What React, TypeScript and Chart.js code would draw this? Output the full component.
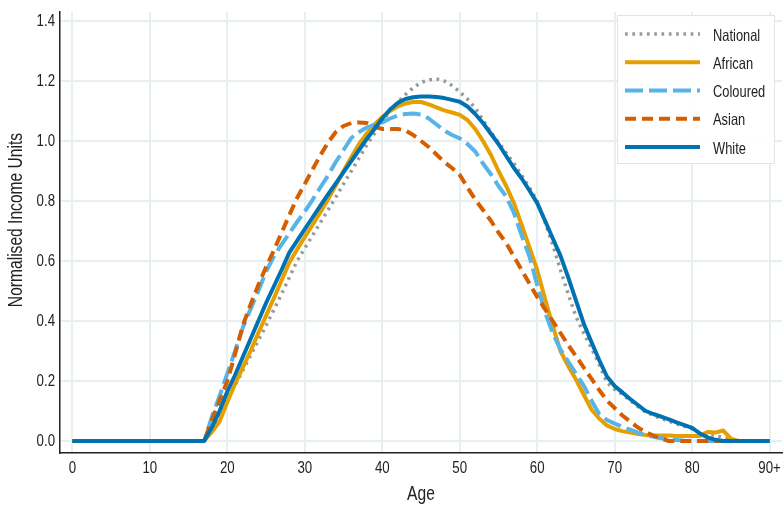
import React, { useEffect, useRef } from 'react';
import { Chart, registerables } from 'chart.js';

Chart.register(...registerables);

// ---- Data ----
const ages = [
  0, 1, 2, 3, 4, 5, 6, 7, 8, 9,
  10, 11, 12, 13, 14, 15, 16, 17, 18, 19,
  20, 21, 22, 23, 24, 25, 26, 27, 28, 29,
  30, 31, 32, 33, 34, 35, 36, 37, 38, 39,
  40, 41, 42, 43, 44, 45, 46, 47, 48, 49,
  50, 51, 52, 53, 54, 55, 56, 57, 58, 59,
  60, 61, 62, 63, 64, 65, 66, 67, 68, 69,
  70, 71, 72, 73, 74, 75, 76, 77, 78, 79,
  80, 81, 82, 83, 84, 85, 86, 87, 88, 89,
  90,
];

const nationalValues = [
  0, 0, 0, 0, 0, 0, 0, 0, 0, 0,
  0, 0, 0, 0, 0, 0, 0, 0, 0.035, 0.09,
  0.14, 0.186, 0.235, 0.285, 0.335, 0.385, 0.437, 0.49, 0.545, 0.6,
  0.643, 0.685, 0.728, 0.77, 0.813, 0.857, 0.9, 0.943, 0.987, 1.025,
  1.065, 1.1, 1.13, 1.155, 1.178, 1.195, 1.204, 1.207, 1.2, 1.185,
  1.164, 1.14, 1.11, 1.07, 1.03, 0.995, 0.96, 0.925, 0.885, 0.845,
  0.8, 0.73, 0.655, 0.57, 0.49, 0.415, 0.36, 0.31, 0.255, 0.195,
  0.172, 0.155, 0.135, 0.115, 0.097, 0.085, 0.075, 0.066, 0.057, 0.049,
  0.04, 0.028, 0.02, 0.02, 0.01, 0.003, 0, 0, 0, 0,
  0,
];

const africanValues = [
  0, 0, 0, 0, 0, 0, 0, 0, 0, 0,
  0, 0, 0, 0, 0, 0, 0, 0, 0.03, 0.065,
  0.13, 0.19, 0.245, 0.3, 0.36, 0.418, 0.476, 0.535, 0.594, 0.638,
  0.68, 0.72, 0.762, 0.805, 0.852, 0.9, 0.946, 0.99, 1.025, 1.055,
  1.08, 1.1, 1.115, 1.125, 1.13, 1.13, 1.122, 1.112, 1.102, 1.095,
  1.087, 1.07, 1.04, 1.0, 0.955, 0.9, 0.85, 0.793, 0.72, 0.645,
  0.57, 0.475, 0.385, 0.3, 0.25, 0.205, 0.155, 0.105, 0.075, 0.052,
  0.04, 0.033, 0.028, 0.023, 0.02, 0.018, 0.018, 0.018, 0.017, 0.017,
  0.017, 0.017, 0.03, 0.028, 0.035, 0.008, 0, 0, 0, 0,
  0,
];

const colouredValues = [
  0, 0, 0, 0, 0, 0, 0, 0, 0, 0,
  0, 0, 0, 0, 0, 0, 0, 0, 0.08, 0.15,
  0.225, 0.3, 0.378, 0.44, 0.5, 0.565, 0.615, 0.655, 0.693, 0.73,
  0.765, 0.804, 0.845, 0.885, 0.93, 0.97, 1.01, 1.03, 1.045, 1.055,
  1.062, 1.075, 1.085, 1.09, 1.092, 1.088, 1.075, 1.055, 1.035, 1.02,
  1.009, 0.99, 0.965, 0.925, 0.89, 0.85, 0.815, 0.76, 0.685, 0.615,
  0.52, 0.43, 0.36, 0.305, 0.265, 0.225, 0.185, 0.135, 0.09, 0.07,
  0.058, 0.047, 0.038, 0.028, 0.02, 0.014, 0.009, 0.005, 0.003, 0.001,
  0, 0, 0, 0, 0, 0, 0, 0, 0, 0,
  0,
];

const asianValues = [
  0, 0, 0, 0, 0, 0, 0, 0, 0, 0,
  0, 0, 0, 0, 0, 0, 0, 0, 0.07, 0.135,
  0.2, 0.29, 0.385, 0.455, 0.52, 0.58, 0.635, 0.694, 0.753, 0.81,
  0.857, 0.905, 0.952, 0.995, 1.03, 1.05, 1.06, 1.062, 1.06, 1.048,
  1.04, 1.04, 1.04, 1.035, 1.02, 1.0, 0.98, 0.955, 0.93, 0.91,
  0.887, 0.845, 0.805, 0.77, 0.735, 0.695, 0.66, 0.615, 0.57, 0.525,
  0.48, 0.44, 0.4, 0.36, 0.32, 0.283, 0.245, 0.208, 0.17, 0.135,
  0.11, 0.085, 0.065, 0.045, 0.03, 0.018, 0.008, 0, 0, 0,
  0, 0, 0, 0, 0, 0, 0, 0, 0, 0,
  0,
];

const whiteValues = [
  0, 0, 0, 0, 0, 0, 0, 0, 0, 0,
  0, 0, 0, 0, 0, 0, 0, 0, 0.045, 0.1,
  0.165, 0.22, 0.28, 0.34, 0.4, 0.46, 0.515, 0.57, 0.628, 0.667,
  0.706, 0.745, 0.784, 0.822, 0.859, 0.896, 0.933, 0.97, 1.007, 1.04,
  1.075, 1.105, 1.127, 1.14, 1.146, 1.148, 1.148, 1.147, 1.143, 1.137,
  1.131, 1.115, 1.09, 1.06, 1.025, 0.99, 0.95, 0.91, 0.875, 0.835,
  0.793, 0.735, 0.676, 0.618, 0.546, 0.469, 0.392, 0.33, 0.27, 0.215,
  0.183, 0.162, 0.14, 0.12, 0.1, 0.09, 0.081, 0.072, 0.062, 0.053,
  0.044, 0.025, 0.012, 0.004, 0, 0, 0, 0, 0, 0,
  0,
];

const xTickValues = [0, 10, 20, 30, 40, 50, 60, 70, 80, 90];
const xTickLabels = ['0', '10', '20', '30', '40', '50', '60', '70', '80', '90+'];
const yTickValues = [0, 0.2, 0.4, 0.6, 0.8, 1.0, 1.2, 1.4];
const yTickLabels = ['0.0', '0.2', '0.4', '0.6', '0.8', '1.0', '1.2', '1.4'];
const xTitle = 'Age';
const yTitle = 'Normalised Income Units';

// Narrow sans: Liberation Sans compressed horizontally (condensed proportions)
const FONT = "'Liberation Sans', Arial, sans-serif";
const TEXT = '#222222';
const GRID = '#e8eff1';

const toPoints = (vals: number[]) => ages.map((a, i) => ({ x: a, y: vals[i] }));

function drawNarrowText(
  ctx: CanvasRenderingContext2D,
  text: string,
  x: number,
  y: number,
  size: number,
  sx: number,
  align: CanvasTextAlign,
  rotate = false,
) {
  ctx.save();
  ctx.translate(x, y);
  if (rotate) ctx.rotate(-Math.PI / 2);
  ctx.scale(sx, 1);
  ctx.font = `${size}px ${FONT}`;
  ctx.fillStyle = TEXT;
  ctx.textAlign = align;
  ctx.textBaseline = 'middle';
  ctx.fillText(text, 0, 0);
  ctx.restore();
}

const axisText = {
  id: 'axisText',
  afterDraw(chart: any) {
    const { ctx, chartArea, scales } = chart;
    const xs = scales.x;
    const ys = scales.y;
    xTickValues.forEach((v, i) => {
      drawNarrowText(ctx, xTickLabels[i], xs.getPixelForValue(v), chartArea.bottom + 15, 17, 0.78, 'center');
    });
    yTickValues.forEach((v, i) => {
      drawNarrowText(ctx, yTickLabels[i], chartArea.left - 5, ys.getPixelForValue(v) + 0.5, 17, 0.78, 'right');
    });
    drawNarrowText(ctx, xTitle, (chartArea.left + chartArea.right) / 2, 495, 19.5, 0.8, 'center');
    drawNarrowText(ctx, yTitle, 17, 220, 19.5, 0.8, 'center', true);
  },
};

const boxLegend = {
  id: 'boxLegend',
  afterDraw(chart: any) {
    const { ctx, chartArea } = chart;
    const w = 158;
    const h = 149;
    const x0 = chartArea.right - 7 - w;
    const y0 = chartArea.top + 3;
    ctx.save();
    ctx.fillStyle = 'rgba(255,255,255,0.92)';
    ctx.fillRect(x0, y0, w, h);
    ctx.strokeStyle = '#e3e3e3';
    ctx.lineWidth = 1;
    ctx.strokeRect(x0 + 0.5, y0 + 0.5, w - 1, h - 1);
    chart.data.datasets.forEach((ds: any, i: number) => {
      const cy = y0 + 19 + i * 28.25;
      ctx.beginPath();
      ctx.setLineDash(ds.borderDash || []);
      ctx.lineCap = 'butt';
      ctx.lineWidth = ds.borderWidth;
      ctx.strokeStyle = ds.borderColor;
      ctx.moveTo(x0 + 8, cy);
      ctx.lineTo(x0 + 83, cy);
      ctx.stroke();
      ctx.setLineDash([]);
      drawNarrowText(ctx, ds.label, x0 + 96, cy + 2, 16.5, 0.78, 'left');
    });
    ctx.restore();
  },
};

export default function App() {
  const canvasRef = useRef<HTMLCanvasElement | null>(null);

  useEffect(() => {
    if (!canvasRef.current) return;
    const chart = new Chart(canvasRef.current, {
      type: 'line',
      data: {
        datasets: [
          {
            label: 'National',
            data: toPoints(nationalValues),
            borderColor: '#999999',
            borderWidth: 3.5,
            borderDash: [2.7, 4.6],
            order: 5,
          },
          {
            label: 'African',
            data: toPoints(africanValues),
            borderColor: '#E69F00',
            borderWidth: 4,
            order: 4,
          },
          {
            label: 'Coloured',
            data: toPoints(colouredValues),
            borderColor: '#56B4E9',
            borderWidth: 4,
            borderDash: [18, 6],
            order: 3,
          },
          {
            label: 'Asian',
            data: toPoints(asianValues),
            borderColor: '#D55E00',
            borderWidth: 4,
            borderDash: [11, 6],
            order: 2,
          },
          {
            label: 'White',
            data: toPoints(whiteValues),
            borderColor: '#0072B2',
            borderWidth: 4,
            order: 1,
          },
        ] as any,
      },
      options: {
        animation: false,
        responsive: true,
        maintainAspectRatio: false,
        parsing: false as any,
        elements: {
          point: { radius: 0, hoverRadius: 0 },
          line: { tension: 0, fill: false, borderCapStyle: 'butt', borderJoinStyle: 'round' },
        },
        layout: { padding: { top: 12, right: 2, left: 0, bottom: 0 } },
        plugins: {
          legend: { display: false },
          tooltip: { enabled: false },
        },
        scales: {
          x: {
            type: 'linear',
            min: -1.6,
            max: 91.6,
            afterBuildTicks: (scale: any) => {
              scale.ticks = xTickValues.map((v) => ({ value: v }));
            },
            afterFit: (scale: any) => {
              scale.height = 53;
            },
            ticks: { display: false },
            grid: { color: GRID, lineWidth: 2, drawTicks: false },
            border: { display: true, color: '#222222', width: 1.5 },
            title: { display: false },
          },
          y: {
            type: 'linear',
            min: -0.04,
            max: 1.43,
            afterBuildTicks: (scale: any) => {
              scale.ticks = yTickValues.map((v) => ({ value: v }));
            },
            afterFit: (scale: any) => {
              scale.width = 60;
            },
            ticks: { display: false },
            grid: { color: GRID, lineWidth: 2, drawTicks: false },
            border: { display: true, color: '#222222', width: 1.5 },
            title: { display: false },
          },
        },
      },
      plugins: [axisText, boxLegend],
    });
    return () => chart.destroy();
  }, []);

  return (
    <div style={{ position: 'fixed', left: 0, top: 0, width: 784, height: 506, background: '#ffffff' }}>
      <canvas ref={canvasRef} />
    </div>
  );
}
